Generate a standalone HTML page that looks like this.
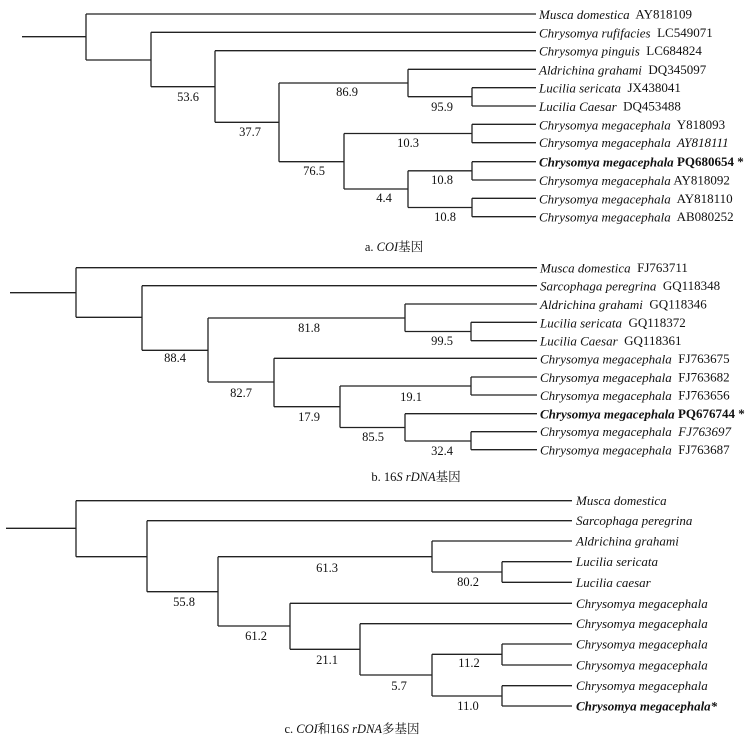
<!DOCTYPE html>
<html><head><meta charset="utf-8"><style>
html,body{margin:0;padding:0;background:#fff;}
svg{display:block;}
text{font-family:"Liberation Serif","Noto Serif CJK SC",serif;fill:#111;white-space:pre;}
.l{font-size:13px;dominant-baseline:central;}
.i{font-style:italic;}
.b{font-weight:bold;}
.n{font-size:12.5px;text-anchor:middle;dominant-baseline:central;}
.c{font-size:12.5px;text-anchor:middle;dominant-baseline:central;}
path{fill:none;stroke:#222;stroke-width:1.3;}
</style></head><body>
<svg width="747" height="740" viewBox="0 0 747 740" xmlns="http://www.w3.org/2000/svg" xml:space="preserve">
<!-- Panel a -->
<path d="M22 36.7H86 M86 14V60 M86 14H536 M86 60H151
M151 32.3V86.7 M151 32.3H536 M151 86.7H215
M215 50.7V122.3 M215 50.7H536 M215 122.3H279
M279 83V161.7 M279 83H408 M279 161.7H344
M408 69.3V96.7 M408 69.3H536 M408 96.7H472
M472 87.7V106 M472 87.7H536 M472 106H536
M344 133.5V189 M344 133.5H472 M344 189H408
M472 124.3V142.7 M472 124.3H536 M472 142.7H536
M408 170.8V207.5 M408 170.8H472 M408 207.5H472
M472 161.7V180 M472 161.7H536 M472 180H536
M472 198.3V216.7 M472 198.3H536 M472 216.7H536"/>
<text class="l" x="539" y="14"><tspan class="i">Musca domestica</tspan>  AY818109</text>
<text class="l" x="539" y="32.3"><tspan class="i">Chrysomya rufifacies</tspan>  LC549071</text>
<text class="l" x="539" y="50.7"><tspan class="i">Chrysomya pinguis</tspan>  LC684824</text>
<text class="l" x="539" y="69.3"><tspan class="i">Aldrichina grahami</tspan>  DQ345097</text>
<text class="l" x="539" y="87.7"><tspan class="i">Lucilia sericata</tspan>  JX438041</text>
<text class="l" x="539" y="106"><tspan class="i">Lucilia Caesar</tspan>  DQ453488</text>
<text class="l" x="539" y="124.3"><tspan class="i">Chrysomya megacephala</tspan>  Y818093</text>
<text class="l i" x="539" y="142.7">Chrysomya megacephala  AY818111</text>
<text class="l b" x="539" y="161.7"><tspan class="i">Chrysomya megacephala</tspan> PQ680654 *</text>
<text class="l" x="539" y="180"><tspan class="i">Chrysomya megacephala</tspan> AY818092</text>
<text class="l" x="539" y="198.3"><tspan class="i">Chrysomya megacephala</tspan>  AY818110</text>
<text class="l" x="539" y="216.7"><tspan class="i">Chrysomya megacephala</tspan>  AB080252</text>
<text class="n" x="188" y="97">53.6</text>
<text class="n" x="250" y="132">37.7</text>
<text class="n" x="347" y="92">86.9</text>
<text class="n" x="442" y="107">95.9</text>
<text class="n" x="408" y="143">10.3</text>
<text class="n" x="314" y="171">76.5</text>
<text class="n" x="442" y="180">10.8</text>
<text class="n" x="384" y="198">4.4</text>
<text class="n" x="445" y="217">10.8</text>
<text class="c" x="394" y="247">a. <tspan class="i">COI</tspan>基因</text>

<!-- Panel b -->
<path d="M10 292.7H76 M76 267.7V317.3 M76 267.7H537 M76 317.3H142
M142 285.7V350.3 M142 285.7H537 M142 350.3H208
M208 318V382 M208 318H405 M208 382H274
M405 304V331.5 M405 304H537 M405 331.5H471
M471 322.3V340.7 M471 322.3H537 M471 340.7H537
M274 358.3V406.7 M274 358.3H537 M274 406.7H340
M340 386V427.5 M340 386H471 M340 427.5H405
M471 377V395 M471 377H537 M471 395H537
M405 413.7V441 M405 413.7H537 M405 441H471
M471 431.7V449.7 M471 431.7H537 M471 449.7H537"/>
<text class="l" x="540" y="267.7"><tspan class="i">Musca domestica</tspan>  FJ763711</text>
<text class="l" x="540" y="285.7"><tspan class="i">Sarcophaga peregrina</tspan>  GQ118348</text>
<text class="l" x="540" y="304"><tspan class="i">Aldrichina grahami</tspan>  GQ118346</text>
<text class="l" x="540" y="322.3"><tspan class="i">Lucilia sericata</tspan>  GQ118372</text>
<text class="l" x="540" y="340.7"><tspan class="i">Lucilia Caesar</tspan>  GQ118361</text>
<text class="l" x="540" y="358.3"><tspan class="i">Chrysomya megacephala</tspan>  FJ763675</text>
<text class="l" x="540" y="377"><tspan class="i">Chrysomya megacephala</tspan>  FJ763682</text>
<text class="l" x="540" y="395"><tspan class="i">Chrysomya megacephala</tspan>  FJ763656</text>
<text class="l b" x="540" y="413.7"><tspan class="i">Chrysomya megacephala</tspan> PQ676744 *</text>
<text class="l i" x="540" y="431.7">Chrysomya megacephala  FJ763697</text>
<text class="l" x="540" y="449.7"><tspan class="i">Chrysomya megacephala</tspan>  FJ763687</text>
<text class="n" x="309" y="328">81.8</text>
<text class="n" x="442" y="341">99.5</text>
<text class="n" x="175" y="358">88.4</text>
<text class="n" x="241" y="393">82.7</text>
<text class="n" x="411" y="397">19.1</text>
<text class="n" x="309" y="417">17.9</text>
<text class="n" x="373" y="437">85.5</text>
<text class="n" x="442" y="451">32.4</text>
<text class="c" x="416" y="477">b. 16<tspan class="i">S rDNA</tspan>基因</text>

<!-- Panel c -->
<path d="M6 528.3H76 M76 500.7V556.7 M76 500.7H572 M76 556.7H147
M147 520.7V591.7 M147 520.7H572 M147 591.7H218
M218 556.7V626 M218 556.7H432 M218 626H290
M432 541V572 M432 541H572 M432 572H502
M502 561.7V582.3 M502 561.7H572 M502 582.3H572
M290 603.3V649.3 M290 603.3H572 M290 649.3H360
M360 623.7V675 M360 623.7H572 M360 675H432
M432 654.3V696 M432 654.3H502 M432 696H502
M502 644V665 M502 644H572 M502 665H572
M502 685.7V706 M502 685.7H572 M502 706H572"/>
<text class="l i" x="576" y="500.7">Musca domestica</text>
<text class="l i" x="576" y="520.7">Sarcophaga peregrina</text>
<text class="l i" x="576" y="541">Aldrichina grahami</text>
<text class="l i" x="576" y="561.7">Lucilia sericata</text>
<text class="l i" x="576" y="582.3">Lucilia caesar</text>
<text class="l i" x="576" y="603.3">Chrysomya megacephala</text>
<text class="l i" x="576" y="623.7">Chrysomya megacephala</text>
<text class="l i" x="576" y="644">Chrysomya megacephala</text>
<text class="l i" x="576" y="665">Chrysomya megacephala</text>
<text class="l i" x="576" y="685.7">Chrysomya megacephala</text>
<text class="l i b" x="576" y="706">Chrysomya megacephala*</text>
<text class="n" x="327" y="568">61.3</text>
<text class="n" x="468" y="582">80.2</text>
<text class="n" x="184" y="602">55.8</text>
<text class="n" x="256" y="636">61.2</text>
<text class="n" x="327" y="660">21.1</text>
<text class="n" x="469" y="663">11.2</text>
<text class="n" x="399" y="686">5.7</text>
<text class="n" x="468" y="706">11.0</text>
<text class="c" x="352" y="729">c. <tspan class="i">COI</tspan>和16<tspan class="i">S rDNA</tspan>多基因</text>
</svg>
</body></html>
